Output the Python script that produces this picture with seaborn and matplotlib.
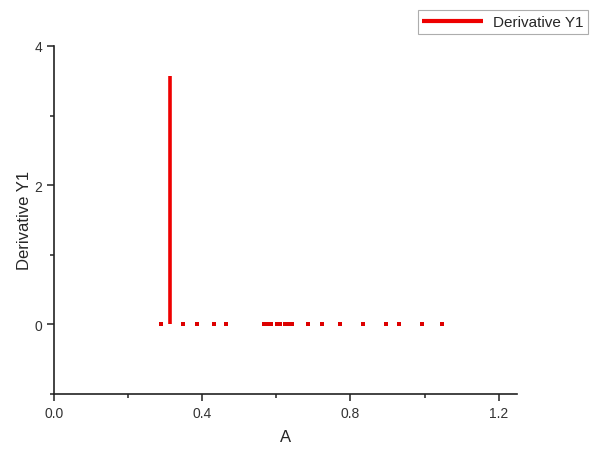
import numpy as np
import pandas as pd
import matplotlib
matplotlib.use("Agg")
import matplotlib.pyplot as plt
import seaborn as sns
from matplotlib.ticker import MultipleLocator

# Data
spike_x = [0.314, 0.314]
spike_y = [0.0, 3.57]
dot_x = [0.289, 0.349, 0.386, 0.432, 0.465, 0.568, 0.578, 0.586, 0.603,
         0.611, 0.624, 0.632, 0.643, 0.686, 0.724, 0.773, 0.835, 0.897,
         0.932, 0.992, 1.046]
dot_y = [0.0] * len(dot_x)

sns.set_style("ticks")
plt.rcParams['font.family'] = ['Liberation Sans', 'DejaVu Sans']

fig = plt.figure(figsize=(6, 4.56), dpi=100)
ax = fig.add_axes([0.09, 0.134, 0.772, 0.763])

spike = pd.DataFrame({'A': spike_x, 'Derivative Y1': spike_y})
dots = pd.DataFrame({'A': dot_x, 'Derivative Y1': dot_y})

sns.lineplot(data=spike, x='A', y='Derivative Y1', sort=False, ax=ax,
             color='#ee0000', linewidth=2.6, estimator=None,
             label='Derivative Y1', legend=False, solid_capstyle='butt')
sns.scatterplot(data=dots, x='A', y='Derivative Y1', ax=ax, color='#dd0000',
                marker='s', s=5, linewidth=0, legend=False)

ax.set_xlim(0, 1.25)
ax.set_ylim(-1, 4)
ax.xaxis.set_major_locator(MultipleLocator(0.4))
ax.xaxis.set_minor_locator(MultipleLocator(0.2))
ax.yaxis.set_major_locator(MultipleLocator(2))
ax.yaxis.set_minor_locator(MultipleLocator(1))
ax.set_xticks([0.0, 0.4, 0.8, 1.2])
ax.set_xticklabels(['0.0', '0.4', '0.8', '1.2'])

sns.despine(ax=ax)
for s in ['left', 'bottom']:
    ax.spines[s].set_linewidth(1.2)
    ax.spines[s].set_color('#222222')
ax.tick_params(which='major', length=5, width=1.1, color='#222222',
               labelsize=10, labelcolor='#333333')
ax.tick_params(which='minor', length=3, width=1.1, color='#222222')

ax.set_xlabel('A', fontsize=12, labelpad=7)
ax.set_ylabel('Derivative Y1', fontsize=12, labelpad=2)

handles, labels = ax.get_legend_handles_labels()
leg = fig.legend(handles, labels, loc='upper right',
                 bbox_to_anchor=(0.987, 0.985), fontsize=11,
                 frameon=True, fancybox=False, handlelength=4.0,
                 borderpad=0.3, borderaxespad=0.3, handletextpad=0.6)
leg.get_frame().set_edgecolor('#999999')
leg.get_frame().set_linewidth(0.8)
for line in leg.get_lines():
    line.set_linewidth(3)

fig.savefig('out.png', dpi=100)
